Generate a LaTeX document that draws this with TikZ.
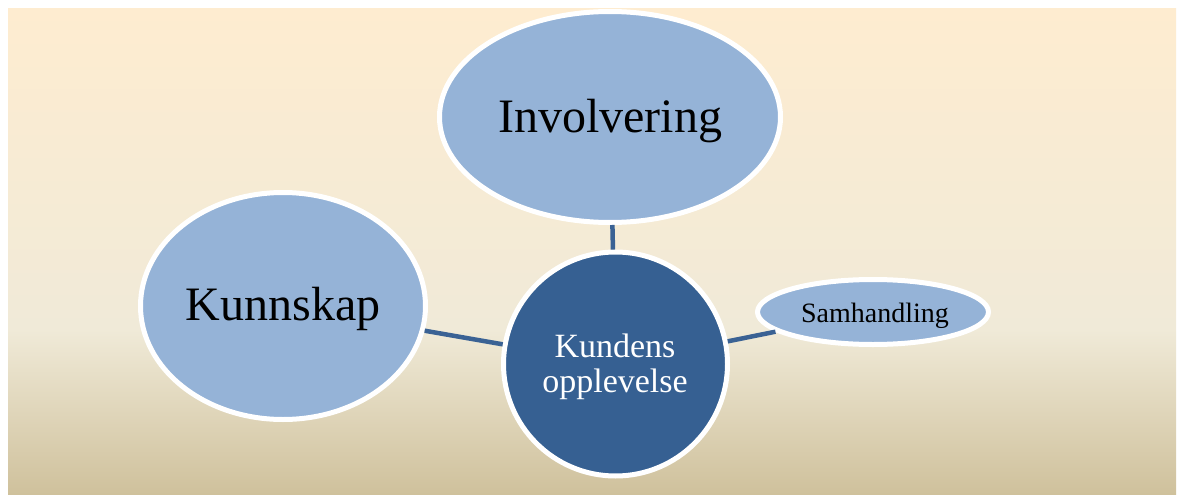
\documentclass[tikz,border=0pt]{standalone}
\usepackage{fontspec}
\setmainfont{Liberation Serif}
\usetikzlibrary{shapes.geometric}
\definecolor{bgtop}{HTML}{FEECD0}
\definecolor{bgmid}{HTML}{F0EAD8}
\definecolor{bgbot}{HTML}{CFC19C}
\definecolor{lightblue}{HTML}{95B3D7}
\definecolor{darkblue}{HTML}{366092}
\definecolor{linkblue}{HTML}{3A6294}
\pgfdeclareverticalshading{bgshade}{100bp}{color(0bp)=(bgbot); color(25bp)=(bgbot); color(42bp)=(bgmid); color(75bp)=(bgtop); color(100bp)=(bgtop)}
\tikzset{
  bubble/.style={ellipse, draw=white, line width=5pt, fill=lightblue, inner sep=0pt},
  core/.style={circle, draw=white, line width=5pt, fill=darkblue, inner sep=0pt},
  link/.style={draw=linkblue, line width=4.5pt},
  bigtxt/.style={font=\fontsize{48}{56}\selectfont, text=black, anchor=base, inner sep=0pt},
  smalltxt/.style={font=\fontsize{28}{32}\selectfont, text=black, anchor=base, inner sep=0pt},
  coretxt/.style={font=\fontsize{34}{35}\selectfont, text=white, anchor=base, inner sep=0pt}
}
\begin{document}
\begin{tikzpicture}[x=1pt,y=-1pt]
\useasboundingbox (0,0) rectangle (1178,495);
\fill[white] (0,0) rectangle (1178,495);
\shade[shading=bgshade] (8,9) rectangle (1176,494);
% nodes
\node[bubble, minimum width=341pt, minimum height=211pt] (inv) at (610,117) {};
\node[bubble, minimum width=285pt, minimum height=227pt] (kun) at (283,306) {};
\node[bubble, minimum width=231pt, minimum height=65pt] (sam) at (873,312) {};
\node[core, minimum size=224pt] (kop) at (615.5,364) {};
% connectors
\draw[link] (inv) -- (kop);
\draw[link] (kun) -- (kop);
\draw[link] (sam) -- (kop);
% texts
\node[bigtxt] (invt) at (610,132) {Involvering};
\node[bigtxt] (kunt) at (283,320) {Kunnskap};
\node[smalltxt] (samt) at (875,322) {Samhandling};
\node[coretxt] (kopa) at (615,357) {Kundens};
\node[coretxt] (kopb) at (615,392) {opplevelse};
\end{tikzpicture}
\end{document}
